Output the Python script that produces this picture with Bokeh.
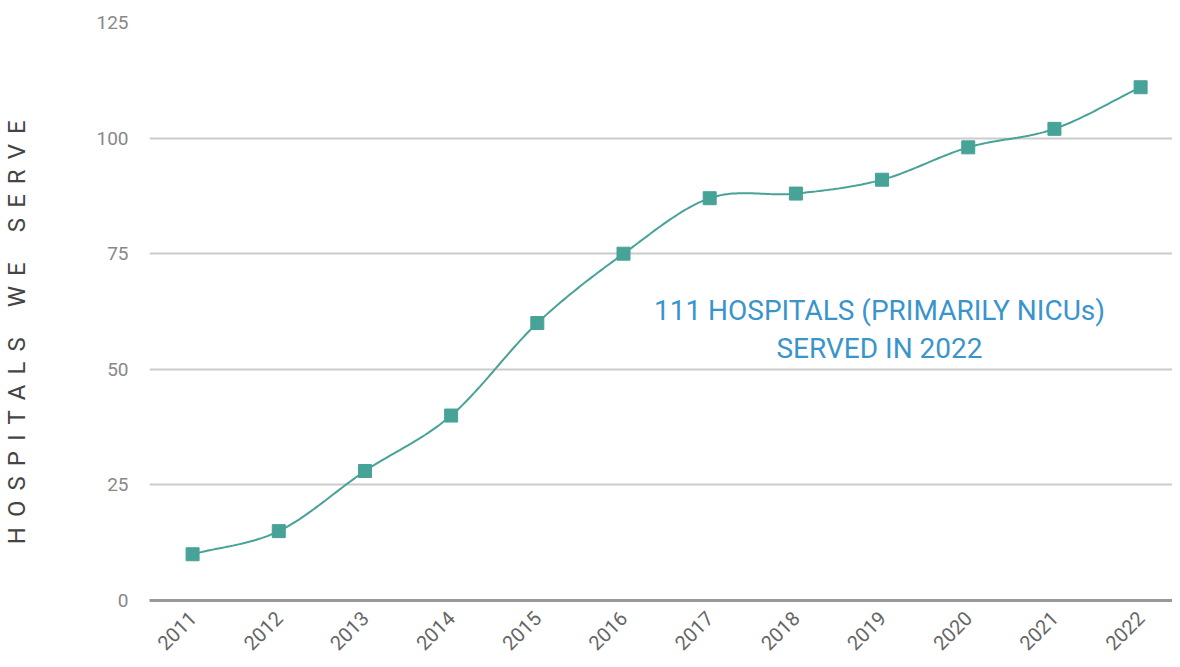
import numpy as np
from bokeh.plotting import figure
from bokeh.models import Range1d, FixedTicker, Label, ColumnDataSource
from bokeh.embed import file_html
from bokeh.resources import INLINE

years = ["2011", "2012", "2013", "2014", "2015", "2016", "2017", "2018", "2019", "2020", "2021", "2022"]
hospitals = [10, 15, 28, 40, 60, 75, 87, 88, 91, 98, 102, 111]
y_ticks = [0, 25, 50, 75, 100, 125]
note_lines = ["111 HOSPITALS (PRIMARILY NICUs)", "SERVED IN 2022"]
axis_title_words = ["HOSPITALS", "WE", "SERVE"]

FONT = "Roboto"
TEAL = "#47a298"

xs = np.arange(len(years), dtype=float)
ys = np.array(hospitals, dtype=float)

# Catmull-Rom smoothing for the drawn curve (rendering only)
def catmull(xp, yp, n=30):
    px = np.concatenate([[2 * xp[0] - xp[1]], xp, [2 * xp[-1] - xp[-2]]])
    py = np.concatenate([[2 * yp[0] - yp[1]], yp, [2 * yp[-1] - yp[-2]]])
    ox, oy = [], []
    for i in range(1, len(px) - 2):
        t = np.linspace(0, 1, n, endpoint=(i == len(px) - 3))
        for arr, out in ((px, ox), (py, oy)):
            p0, p1, p2, p3 = arr[i - 1], arr[i], arr[i + 1], arr[i + 2]
            out.extend(0.5 * ((2 * p1) + (-p0 + p2) * t + (2 * p0 - 5 * p1 + 4 * p2 - p3) * t ** 2
                              + (-p0 + 3 * p1 - 3 * p2 + p3) * t ** 3))
    return ox, oy

cx, cy = catmull(xs, ys)

p = figure(width=1172, height=659, output_backend="svg", toolbar_location=None,
           x_range=Range1d(-0.5, len(years) - 0.63), y_range=Range1d(0, 125),
           min_border_left=146, min_border_right=0, min_border_top=22, min_border_bottom=56)
p.outline_line_color = None
p.background_fill_color = "white"
p.border_fill_color = "white"

p.line(cx, cy, line_color=TEAL, line_width=2)
src = ColumnDataSource(dict(x=xs, y=ys))
p.scatter("x", "y", source=src, marker="square", size=13, fill_color=TEAL, line_color=TEAL)

# y axis
gap = "\u00a0\u2006"
title = (gap * 3).join(gap.join(list(w)) for w in axis_title_words) + "\u00a0" * 7
p.yaxis.ticker = FixedTicker(ticks=y_ticks)
p.yaxis.axis_line_color = None
p.yaxis.major_tick_line_color = None
p.yaxis.minor_tick_line_color = None
p.yaxis.major_label_text_font = FONT
p.yaxis.major_label_text_font_size = "19px"
p.yaxis.major_label_text_color = "#888888"
p.yaxis.major_label_standoff = 15
p.yaxis.axis_label = title
p.yaxis.axis_label_text_font = FONT
p.yaxis.axis_label_text_font_style = "normal"
p.yaxis.axis_label_text_font_size = "24px"
p.yaxis.axis_label_text_color = "#444444"
p.yaxis.axis_label_standoff = 62

# x axis
p.xaxis.ticker = FixedTicker(ticks=list(xs))
p.xaxis.major_label_overrides = {float(i): y for i, y in enumerate(years)}
p.xaxis.major_label_orientation = np.pi / 4
p.xaxis.axis_line_color = "#999999"
p.xaxis.axis_line_width = 3
p.xaxis.major_tick_line_color = None
p.xaxis.minor_tick_line_color = None
p.xaxis.major_label_text_font = FONT
p.xaxis.major_label_text_font_size = "20px"
p.xaxis.major_label_text_color = "#666666"
p.xaxis.major_label_standoff = 8

p.xgrid.grid_line_color = None
p.ygrid.ticker = FixedTicker(ticks=y_ticks)
p.ygrid.grid_line_color = "#cccccc"
p.ygrid.grid_line_width = 2

for i, line in enumerate(note_lines):
    p.add_layout(Label(x=7.97, y=62.8 - i * 8.4, text=line, text_align="center", text_baseline="middle",
                       text_font=FONT, text_font_size="28px", text_color="#3a94cc"))

open("out.html", "w").write(file_html(p, INLINE))
